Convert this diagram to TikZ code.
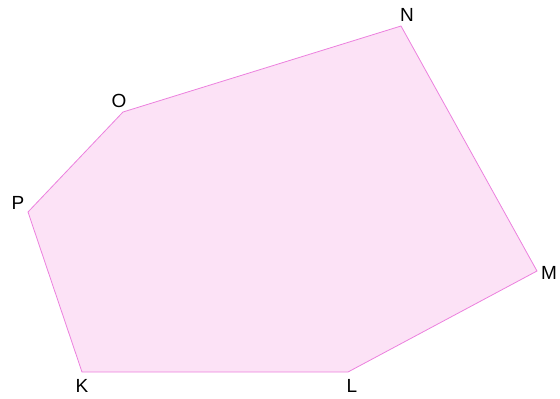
\documentclass[tikz,border=0pt]{standalone}
\usepackage{fontspec}
\setmainfont{Liberation Sans}
\definecolor{polyfill}{RGB}{252,226,246}
\definecolor{polyline}{RGB}{236,128,222}
\begin{document}
\begin{tikzpicture}[x=1pt,y=-1pt,
  lbl/.style={font=\fontsize{19}{21}\selectfont, inner sep=0pt}]
\useasboundingbox (0,0) rectangle (560,399);
\coordinate (K) at (82,372);
\coordinate (L) at (348,372);
\coordinate (M) at (537,271);
\coordinate (N) at (401,26);
\coordinate (O) at (123,112);
\coordinate (P) at (28,212);
\draw[polyline, fill=polyfill, line width=0.8pt] (K) -- (L) -- (M) -- (N) -- (O) -- (P) -- cycle;
\node[lbl] (tK) at (82,386) {K};
\node[lbl] (tL) at (352,386) {L};
\node[lbl] (tM) at (549,273) {M};
\node[lbl] (tN) at (407,15) {N};
\node[lbl] (tO) at (119,101) {O};
\node[lbl] (tP) at (18,203) {P};
\end{tikzpicture}
\end{document}
